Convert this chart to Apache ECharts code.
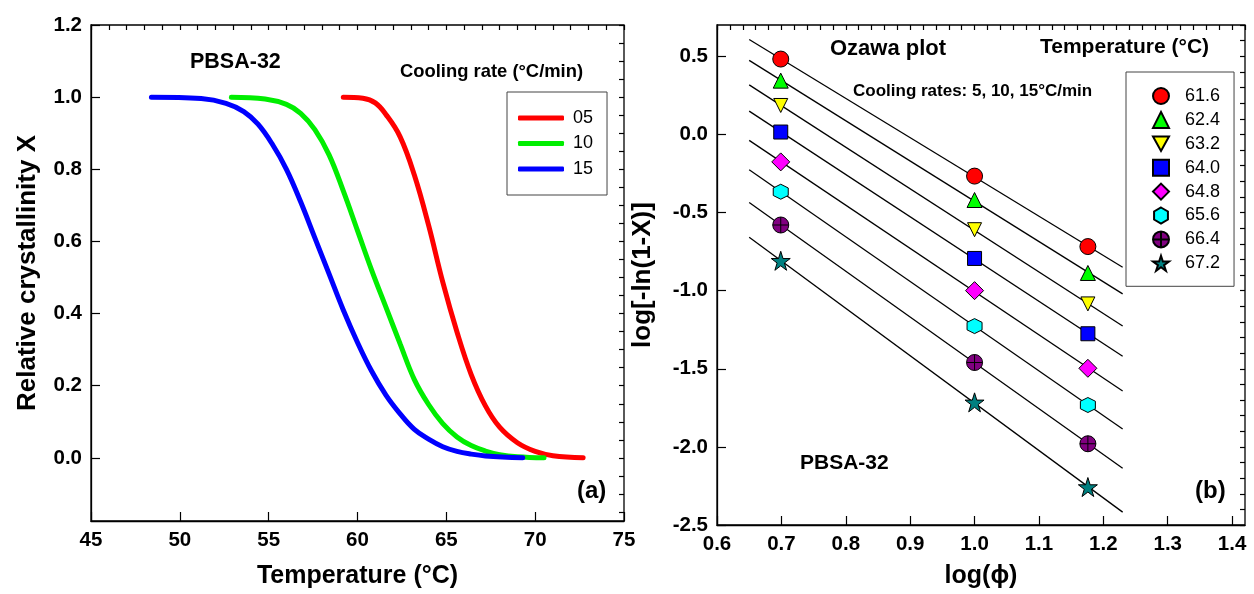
<!DOCTYPE html>
<html>
<head>
<meta charset="utf-8">
<script src="https://cdn.jsdelivr.net/npm/echarts@6/dist/echarts.min.js"></script>
<style>
  html, body { margin: 0; padding: 0; background: #ffffff; }
  #chart { width: 1254px; height: 594px; }
</style>
</head>
<body>
<div id="chart"></div>
<script>
// ---------- (a) relative crystallinity vs. temperature ----------
const coolingRates = ['05', '10', '15'];
const curveColors = ['#ff0000', '#00ee00', '#0000ff'];

// [temperature °C, relative crystallinity X]
const curve05 = [
  [59.2, 1.0], [60.3, 0.997], [61.0, 0.984], [61.6, 0.952], [62.4, 0.89],
  [63.2, 0.784], [64.0, 0.645], [64.8, 0.487], [65.6, 0.349], [66.4, 0.231],
  [67.2, 0.144], [68.0, 0.085], [69.0, 0.042], [70.0, 0.018], [71.0, 0.006],
  [72.7, 0.0]
];
const curve10 = [
  [52.9, 1.0], [54.8, 0.995], [56.0, 0.98], [56.8, 0.955], [57.6, 0.91],
  [58.4, 0.84], [59.2, 0.74], [60.0, 0.63], [60.8, 0.52], [61.6, 0.418],
  [62.4, 0.316], [63.2, 0.217], [64.0, 0.148], [64.8, 0.095], [65.6, 0.058],
  [66.4, 0.034], [67.2, 0.019], [68.0, 0.009], [69.0, 0.003], [70.5, 0.0]
];
const curve15 = [
  [48.4, 1.0], [51.2, 0.996], [52.6, 0.983], [53.6, 0.96], [54.4, 0.925],
  [55.2, 0.87], [56.0, 0.80], [56.8, 0.71], [57.6, 0.61], [58.4, 0.51],
  [59.2, 0.41], [60.0, 0.32], [60.8, 0.24], [61.6, 0.174], [62.4, 0.122],
  [63.2, 0.079], [64.0, 0.052], [64.8, 0.031], [65.6, 0.018], [66.4, 0.0104],
  [67.2, 0.0055], [69.3, 0.0]
];
const curves = [curve05, curve10, curve15];

const tempTicks = [45, 50, 55, 60, 65, 70, 75];
const crystTicks = [0, 0.2, 0.4, 0.6, 0.8, 1.0, 1.2];

// ---------- (b) Ozawa plot ----------
const logRate = [0.699, 1.0, 1.176];          // log(5), log(10), log(15)
const ozawaTemps = ['61.6', '62.4', '63.2', '64.0', '64.8', '65.6', '66.4', '67.2'];
const ozawa616 = [0.482, -0.267, -0.718];
const ozawa624 = [0.344, -0.420, -0.887];
const ozawa632 = [0.185, -0.610, -1.085];
const ozawa640 = [0.015, -0.794, -1.276];
const ozawa648 = [-0.176, -1.000, -1.497];
const ozawa656 = [-0.367, -1.227, -1.732];
const ozawa664 = [-0.580, -1.460, -1.980];
const ozawa672 = [-0.809, -1.715, -2.257];
const ozawaValues = [ozawa616, ozawa624, ozawa632, ozawa640, ozawa648, ozawa656, ozawa664, ozawa672];

const logPhiTicks = [0.6, 0.7, 0.8, 0.9, 1.0, 1.1, 1.2, 1.3, 1.4];
const ozawaTicks = [-2.5, -2.0, -1.5, -1.0, -0.5, 0.0, 0.5];

// ---------- styling ----------
const FONT = '"Liberation Sans", Arial, sans-serif';
const ozawaColors = ['#ff0000', '#00ff00', '#ffff00', '#0000ff', '#ff00ff', '#00ffff', '#800080', '#008080'];
const ozawaSymbols = [
  'circle',
  'triangle',
  'path://M0,0 L10,0 L5,9 Z',
  'rect',
  'diamond',
  'path://M5,0 L9.33,2.5 L9.33,7.5 L5,10 L0.67,7.5 L0.67,2.5 Z',
  'path://M10,5 A5,5 0 1 1 0,5 A5,5 0 1 1 10,5 Z M5,0 L5,10 M0,5 L10,5',
  'path://M5,0 L6.18,3.62 L10,3.62 L6.91,5.85 L8.09,9.47 L5,7.24 L1.91,9.47 L3.09,5.85 L0,3.62 L3.82,3.62 Z'
];
const ozawaSizes = [16, 15, 14, 14, 18, 15, 16, 19];

function range(from, to, step) {
  const out = [];
  const n = Math.round((to - from) / step);
  for (let i = 0; i <= n; i++) out.push(+(from + i * step).toFixed(6));
  return out;
}

// least-squares straight line through one temperature's points
function fitLine(xs, ys) {
  const n = xs.length;
  const mx = xs.reduce((a, b) => a + b, 0) / n;
  const my = ys.reduce((a, b) => a + b, 0) / n;
  let sxy = 0, sxx = 0;
  for (let i = 0; i < n; i++) { sxy += (xs[i] - mx) * (ys[i] - my); sxx += (xs[i] - mx) ** 2; }
  const k = sxy / sxx;
  return x => my + k * (x - mx);
}

const labelStyle = { color: '#000', fontFamily: FONT, fontWeight: 'bold', fontSize: 20.5 };
const nameStyle = { color: '#000', fontFamily: FONT, fontWeight: 'bold', fontSize: 25 };

// a labelled axis with long ticks, plus a bare twin carrying the short ticks
function axisPair(gridIndex, min, max, majors, minors, fmt, extra) {
  const major = Object.assign({
    type: 'value', gridIndex, min, max,
    axisLine: { show: true, onZero: false, lineStyle: { color: '#000', width: 1.3 } },
    splitLine: { show: false },
    axisTick: { show: true, inside: true, length: 9, customValues: majors, lineStyle: { color: '#000', width: 1.2 } },
    axisLabel: { show: true, customValues: majors, formatter: fmt, margin: 9, ...labelStyle }
  }, extra || {});
  const minor = {
    type: 'value', gridIndex, min, max,
    axisLine: { show: false, onZero: false },
    splitLine: { show: false },
    axisTick: { show: true, inside: true, length: 5, customValues: minors, lineStyle: { color: '#000', width: 1.2 } },
    axisLabel: { show: false }
  };
  return [major, minor];
}

const xAxes = [
  ...axisPair(0, 45, 75, tempTicks, range(45, 75, 1), v => String(v),
    { name: 'Temperature (°C)', nameLocation: 'middle', nameGap: 43, nameTextStyle: nameStyle }),
  ...axisPair(1, 0.6, 1.42, logPhiTicks, range(0.6, 1.42, 0.02), v => v.toFixed(1),
    { name: 'log(ϕ)', nameLocation: 'middle', nameGap: 39, nameTextStyle: nameStyle })
];
const yAxes = [
  ...axisPair(0, -0.175, 1.2, crystTicks, range(-0.15, 1.2, 0.05), v => v.toFixed(1),
    { name: 'Relative crystallinity X', nameLocation: 'middle', nameGap: 50, nameTextStyle: { ...nameStyle, fontSize: 26 } }),
  ...axisPair(1, -2.5, 0.7, ozawaTicks, range(-2.5, 0.7, 0.1), v => v.toFixed(1),
    { name: 'log[-ln(1-X)]', nameLocation: 'middle', nameGap: 61, nameTextStyle: { ...nameStyle, fontSize: 26 } })
];

const series = [];
curves.forEach((c, i) => {
  series.push({
    name: coolingRates[i], type: 'line', xAxisIndex: 0, yAxisIndex: 0,
    data: c, smooth: 0.4, showSymbol: false, symbol: 'none',
    lineStyle: { color: curveColors[i], width: 5, cap: 'round' }, itemStyle: { color: curveColors[i] },
    z: 3
  });
});
ozawaValues.forEach((ys, i) => {
  const f = fitLine(logRate, ys);
  series.push({
    type: 'line', xAxisIndex: 2, yAxisIndex: 2, silent: true,
    data: [[0.65, f(0.65)], [1.23, f(1.23)]],
    showSymbol: false, symbol: 'none',
    lineStyle: { color: '#000', width: 1.3 }, z: 2
  });
});
ozawaValues.forEach((ys, i) => {
  series.push({
    name: ozawaTemps[i], type: 'scatter', xAxisIndex: 2, yAxisIndex: 2,
    data: logRate.map((x, j) => [x, ys[j]]),
    symbol: ozawaSymbols[i], symbolSize: ozawaSizes[i],
    itemStyle: { color: ozawaColors[i], borderColor: '#000', borderWidth: 1, opacity: 1 },
    z: 5
  });
});

const chart = echarts.init(document.getElementById('chart'), null, { renderer: 'canvas' });
chart.setOption({
  animation: false,
  backgroundColor: '#ffffff',
  grid: [
    { left: 91, right: 630, top: 25, bottom: 71, show: true, borderColor: '#000', borderWidth: 1.3, backgroundColor: 'transparent' },
    { left: 717, right: 9, top: 25, bottom: 67, show: true, borderColor: '#000', borderWidth: 1.3, backgroundColor: 'transparent' }
  ],
  xAxis: xAxes,
  yAxis: yAxes,
  legend: [
    {
      data: coolingRates.map(n => ({ name: n, icon: 'roundRect' })),
      orient: 'vertical', left: 507, top: 92,
      padding: [17, 14, 17, 11], itemWidth: 46, itemHeight: 5, itemGap: 7.5,
      borderColor: '#444', borderWidth: 1, backgroundColor: '#fff',
      textStyle: { fontFamily: FONT, fontSize: 18, color: '#000', lineHeight: 14, padding: [0, 0, 0, 4] },
      selectedMode: false
    },
    {
      data: ozawaTemps, orient: 'vertical', left: 1126, top: 72,
      padding: [15, 14, 14, 26], itemWidth: 16, itemHeight: 16, itemGap: 5.9,
      borderColor: '#444', borderWidth: 1, backgroundColor: '#fff',
      textStyle: { fontFamily: FONT, fontSize: 18, color: '#000', lineHeight: 16, padding: [0, 0, 0, 11] },
      selectedMode: false
    }
  ],
  graphic: [
    { type: 'text', left: 190, top: 51, style: { text: 'PBSA-32', font: 'bold 21.5px ' + FONT, fill: '#000' } },
    { type: 'text', left: 400, top: 63, style: { text: 'Cooling rate (°C/min)', font: 'bold 18.4px ' + FONT, fill: '#000' } },
    { type: 'text', left: 577, top: 479, style: { text: '(a)', font: 'bold 24px ' + FONT, fill: '#000' } },
    { type: 'text', left: 830, top: 38, style: { text: 'Ozawa plot', font: 'bold 22px ' + FONT, fill: '#000' } },
    { type: 'text', left: 853, top: 83, style: { text: 'Cooling rates: 5, 10, 15°C/min', font: 'bold 17px ' + FONT, fill: '#000' } },
    { type: 'text', left: 1040, top: 37, style: { text: 'Temperature (°C)', font: 'bold 21px ' + FONT, fill: '#000' } },
    { type: 'text', left: 800, top: 453, style: { text: 'PBSA-32', font: 'bold 21px ' + FONT, fill: '#000' } },
    { type: 'text', left: 1195, top: 479, style: { text: '(b)', font: 'bold 24px ' + FONT, fill: '#000' } }
  ],
  series
});
</script>
</body>
</html>
